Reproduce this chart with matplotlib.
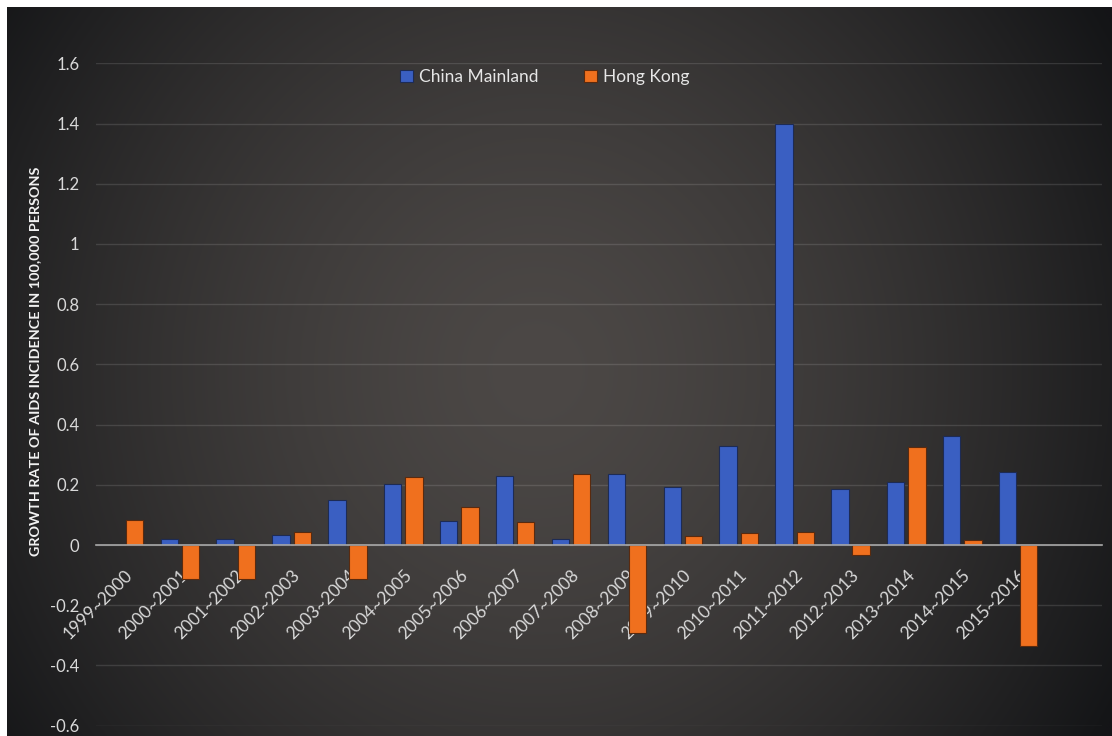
import numpy as np
import matplotlib.pyplot as plt

periods = ['1999~2000', '2000~2001', '2001~2002', '2002~2003', '2003~2004',
           '2004~2005', '2005~2006', '2006~2007', '2007~2008', '2008~2009',
           '2009~2010', '2010~2011', '2011~2012', '2012~2013', '2013~2014',
           '2014~2015', '2015~2016']
mainland = [np.nan, 0.021, 0.021, 0.032, 0.148, 0.203, 0.081, 0.230, 0.021,
            0.237, 0.194, 0.330, 1.400, 0.187, 0.208, 0.362, 0.241]
hong_kong = [0.083, -0.112, -0.112, 0.042, -0.112, 0.227, 0.127, 0.077, 0.235,
             -0.292, 0.030, 0.040, 0.042, -0.033, 0.326, 0.016, -0.334]

plt.rcParams['font.family'] = ['Lato', 'DejaVu Sans']

W, H = 1112, 736
fig = plt.figure(figsize=(W / 100, H / 100), dpi=100, facecolor='white')

# dark radial backdrop, lighter toward the middle
bg = fig.add_axes([7 / W, 0, 1 - 7 / W, 1 - 7 / H], zorder=0)
gx, gy = np.meshgrid(np.linspace(0, 1, 600), np.linspace(0, 1, 400))
d = np.sqrt(((gx - 0.48) / 0.60) ** 2 + ((gy - 0.50) / 0.95) ** 2)
t = np.clip(d, 0, 1) ** 1.5
inner = np.array([76, 72, 70]) / 255
outer = np.array([20, 21, 23]) / 255
bg.imshow(inner + (outer - inner) * t[..., None], aspect='auto',
          extent=[0, 1, 0, 1], origin='upper')
bg.axis('off')

ax = fig.add_axes([96 / W, 1 - 725.6 / H, (1102 - 96) / W, (725.6 - 63.4) / H],
                  zorder=1)
ax.patch.set_alpha(0)

x = np.arange(len(periods))
w, off = 0.31, 0.19
ax.bar(x - off, mainland, w, color='#3a5fc2', edgecolor='#1d2b55',
       linewidth=0.8, label='China Mainland', zorder=3)
ax.bar(x + off, hong_kong, w, color='#f0701e', edgecolor='#5a2a0e',
       linewidth=0.8, label='Hong Kong', zorder=3)

ax.set_xlim(-0.5, len(periods) + 0.5)
ax.set_ylim(-0.6, 1.6)
yt = np.round(np.arange(-0.6, 1.61, 0.2), 1)
ax.set_yticks(yt)
ax.set_yticklabels([f'{v + 0.0:g}' for v in yt])
ax.yaxis.grid(True, color='white', alpha=0.12, linewidth=1)
ax.set_axisbelow(True)

for s in ['top', 'right', 'left']:
    ax.spines[s].set_visible(False)
ax.spines['bottom'].set_position(('data', 0))
ax.spines['bottom'].set_color('#a8a8a8')
ax.spines['bottom'].set_linewidth(1.2)
ax.spines['bottom'].set_zorder(4)

ax.set_xticks(x)
ax.set_xticklabels(periods, rotation=45, ha='right', rotation_mode='anchor')
ax.tick_params(axis='x', length=0, pad=16, labelsize=12.5, labelcolor='#d9d9d9')
ax.tick_params(axis='y', length=0, pad=12, labelsize=12, labelcolor='#d9d9d9')

fig.text(35 / W, 1 - 361 / H, 'GROWTH RATE OF AIDS INCIDENCE IN 100,000 PERSONS',
         rotation=90, fontweight='bold', color='#f2f2f2', fontsize=10.4,
         ha='center', va='center')

fig.legend(loc='center', bbox_to_anchor=(545 / W, 1 - 77 / H), ncol=2,
           frameon=False, fontsize=12.5, labelcolor='#e6e6e6',
           handlelength=0.75, handleheight=0.75, handletextpad=0.35,
           columnspacing=2.6)

fig.savefig('out.png', dpi=100, facecolor='white')
